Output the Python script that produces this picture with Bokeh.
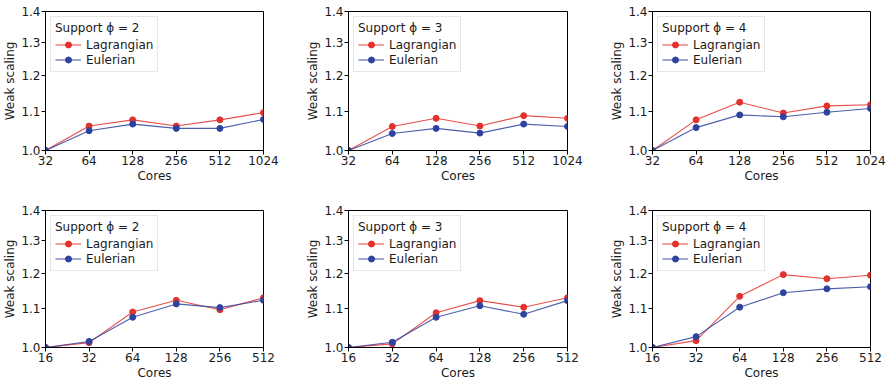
from bokeh.plotting import figure
from bokeh.layouts import column, row
from bokeh.models import Range1d, FixedTicker, PrintfTickFormatter, Legend
from bokeh.embed import file_html
from bokeh.resources import INLINE

cores_top = [32, 64, 128, 256, 512, 1024]
cores_bot = [16, 32, 64, 128, 256, 512]
y_ticks = [1.0, 1.1, 1.2, 1.3, 1.4]

lag_top_phi2 = [1.0, 1.061, 1.077, 1.061, 1.077, 1.096]
eul_top_phi2 = [1.0, 1.049, 1.066, 1.055, 1.055, 1.078]
lag_top_phi3 = [1.0, 1.060, 1.081, 1.061, 1.088, 1.081]
eul_top_phi3 = [1.0, 1.042, 1.055, 1.043, 1.066, 1.060]
lag_top_phi4 = [1.0, 1.077, 1.124, 1.095, 1.114, 1.117]
eul_top_phi4 = [1.0, 1.057, 1.090, 1.085, 1.097, 1.107]

lag_bot_phi2 = [1.0, 1.012, 1.091, 1.123, 1.097, 1.130]
eul_bot_phi2 = [1.0, 1.015, 1.077, 1.113, 1.103, 1.123]
lag_bot_phi3 = [1.0, 1.009, 1.089, 1.122, 1.104, 1.130]
eul_bot_phi3 = [1.0, 1.013, 1.077, 1.108, 1.085, 1.122]
lag_bot_phi4 = [1.0, 1.017, 1.134, 1.196, 1.184, 1.194]
eul_bot_phi4 = [1.0, 1.027, 1.104, 1.144, 1.155, 1.161]

RED = "#e3312b"
BLUE = "#2e43a0"
FONT = "DejaVu Sans"
TXT = "#1a1a1a"
FS = "12px"


def panel(cores, lag, eul, phi, width, bl, br, bt, bb, height):
    p = figure(width=width, height=height, x_axis_type="log", y_axis_type="log",
               x_range=Range1d(cores[0], cores[-1]), y_range=Range1d(1.0, 1.4),
               output_backend="svg", toolbar_location=None,
               min_border_left=bl, min_border_right=br,
               min_border_top=bt, min_border_bottom=bb)
    p.grid.visible = False
    p.outline_line_color = "black"
    p.outline_line_width = 1
    p.background_fill_color = "white"
    p.border_fill_color = "white"

    r1 = p.line(cores, lag, color=RED, line_width=1.1, line_alpha=0.85)
    s1 = p.scatter(cores, lag, size=6, color=RED)
    r2 = p.line(cores, eul, color=BLUE, line_width=1.1, line_alpha=0.85)
    s2 = p.scatter(cores, eul, size=6, color=BLUE)

    p.xaxis.ticker = FixedTicker(ticks=cores, minor_ticks=[])
    p.xaxis.formatter = PrintfTickFormatter(format="%d")
    p.yaxis.ticker = FixedTicker(ticks=y_ticks, minor_ticks=[])
    p.yaxis.formatter = PrintfTickFormatter(format="%.1f")
    p.xaxis.axis_label = "Cores"
    p.yaxis.axis_label = "Weak scaling"
    for ax in (p.xaxis, p.yaxis):
        ax.axis_line_color = "black"
        ax.major_tick_line_color = "black"
        ax.major_tick_out = 4
        ax.major_tick_in = 0
        ax.minor_tick_line_color = None
        ax.major_label_text_font = FONT
        ax.major_label_text_font_size = FS
        ax.major_label_text_color = TXT
        ax.axis_label_text_font = FONT
        ax.axis_label_text_font_size = FS
        ax.axis_label_text_font_style = "normal"
        ax.axis_label_text_color = TXT
        ax.major_label_standoff = 1
        ax.axis_label_standoff = 1

    legend = Legend(items=[("Lagrangian", [r1, s1]), ("Eulerian", [r2, s2])],
                    location="top_left", title="Support \u03d5 = %d" % phi)
    legend.title_text_font = FONT
    legend.title_text_font_size = FS
    legend.title_text_font_style = "normal"
    legend.title_text_color = TXT
    legend.label_text_font = FONT
    legend.label_text_font_size = FS
    legend.label_text_color = TXT
    legend.border_line_color = "#d0d0d0"
    legend.border_line_width = 1
    legend.background_fill_alpha = 0.9
    legend.margin = 5
    legend.padding = 4
    legend.spacing = 0
    legend.label_height = 15
    legend.glyph_height = 15
    legend.glyph_width = 26
    legend.label_standoff = 5
    legend.title_standoff = 2
    p.add_layout(legend)
    return p


top_h, bot_h = 185, 197
f1 = panel(cores_top, lag_top_phi2, eul_top_phi2, 2, 303, 40, 40, 11, 33, top_h)
f2 = panel(cores_top, lag_top_phi3, eul_top_phi3, 3, 304, 40, 40, 11, 33, top_h)
f3 = panel(cores_top, lag_top_phi4, eul_top_phi4, 4, 279, 40, 16, 11, 33, top_h)
f4 = panel(cores_bot, lag_bot_phi2, eul_bot_phi2, 2, 303, 40, 40, 25, 33, bot_h)
f5 = panel(cores_bot, lag_bot_phi3, eul_bot_phi3, 3, 304, 40, 40, 25, 33, bot_h)
f6 = panel(cores_bot, lag_bot_phi4, eul_bot_phi4, 4, 279, 40, 16, 25, 33, bot_h)

layout = column(row(f1, f2, f3, spacing=0), row(f4, f5, f6, spacing=0), spacing=0)
open("out.html", "w").write(file_html(layout, INLINE))
